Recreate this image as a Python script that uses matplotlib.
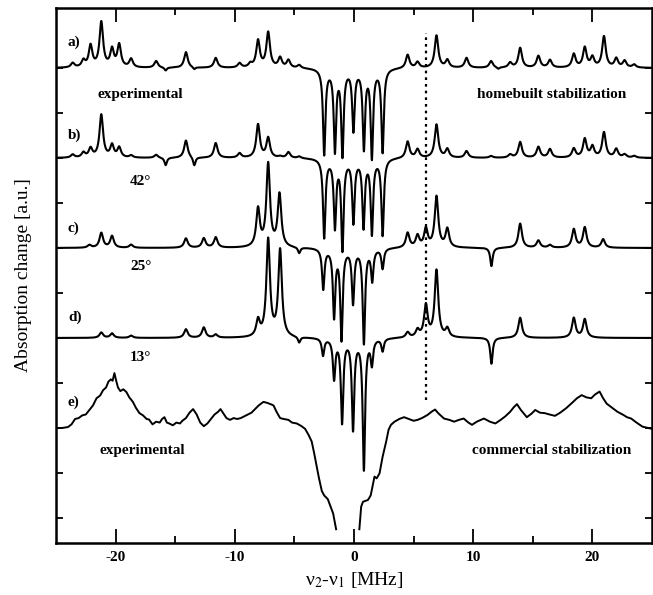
import numpy as np
import matplotlib
matplotlib.use("Agg")
import matplotlib.pyplot as plt

plt.rcParams['font.family'] = ['Liberation Serif', 'DejaVu Serif']
plt.rcParams['mathtext.fontset'] = 'stix'
plt.rcParams['axes.unicode_minus'] = False

# line positions [MHz] and amplitudes [a.u.]
a_pos = [-23.6, -22.7, -22.1, -21.2, -20.3, -19.7, -18.7, -16.6, -15.8, -14.1, -13.4, -11.6, -9.6, -8.7,
         -8.05, -7.2, -6.2, -5.5, -4.6,
         -2.5, -1.6, -0.97, -0.05, 0.83, 1.5, 2.4,
         4.5, 5.33, 6.92, 7.83, 9.44, 11.5, 12.1, 13.1, 13.94, 15.47, 16.44, 18.44, 19.36, 20.0,
         20.97, 22.0, 22.7, 23.5]
a_amp = [0.1, 0.15, 0.48, 1.0, 0.39, 0.5, 0.19, 0.15, -0.07, 0.35, -0.05, 0.22, 0.1, 0.08,
         0.6, 0.78, 0.22, 0.17, 0.07,
         -1.9, -1.8, -1.9, -1.35, -1.75, -1.95, -1.85,
         0.3, 0.13, 0.72, 0.17, 0.22, 0.15, -0.04, 0.11, 0.44, 0.26, 0.17, 0.3, 0.44, 0.22,
         0.69, 0.2, 0.15, 0.07]

b_pos = [-23.6, -22.7, -22.1, -21.2, -20.3, -19.7, -18.7, -16.6, -15.8, -14.1, -13.4, -11.6, -9.6,
         -8.05, -7.2, -6.2, -5.5, -4.6,
         -2.5, -1.6, -0.97, -0.05, 0.8, 1.5, 2.4,
         4.5, 5.33, 6.92, 7.83, 9.44, 11.5, 13.1, 13.94, 15.47, 16.44, 18.44, 19.36, 20.0,
         20.97, 22.0, 22.7, 23.5]
b_amp = [0.07, 0.11, 0.2, 0.95, 0.27, 0.22, 0.05, 0.07, -0.17, 0.39, -0.19, 0.33, 0.1,
         0.74, 0.44, 0.03, 0.13, 0.04,
         -1.75, -1.5, -2.0, -1.4, -1.5, -1.65, -1.7,
         0.37, 0.19, 0.74, 0.19, 0.15, 0.04, 0.07, 0.35, 0.24, 0.19, 0.2, 0.41, 0.24,
         0.56, 0.19, 0.07, 0.04]

c_pos = [-22.2, -21.2, -20.3, -18.7, -14.1, -12.6, -11.6, -8.05, -7.2, -6.25, -4.6,
         -2.58, -1.67, -1.05, -0.08, 0.83, 1.53, 2.4,
         4.5, 5.33, 6.03, 6.92, 7.83, 11.53, 13.94, 15.47, 16.44, 18.44, 19.36, 20.9]
c_amp = [0.06, 0.33, 0.26, 0.07, 0.21, 0.21, 0.23, 0.84, 1.84, 1.17, -0.13,
         -0.9, -1.5, -2.0, -1.2, -2.1, -0.7, -0.45,
         0.33, 0.26, 0.41, 1.13, 0.41, -0.41, 0.54, 0.16, 0.06, 0.41, 0.45, 0.19]

d_pos = [-21.2, -20.3, -18.7, -14.1, -12.6, -11.6, -8.05, -7.2, -6.2, -4.6,
         -2.6, -1.67, -1.0, -0.08, 0.83, 1.5, 2.4,
         4.5, 5.33, 6.03, 6.92, 7.83, 11.53, 13.94, 18.44, 19.36]
d_amp = [0.12, 0.1, 0.05, 0.19, 0.23, 0.07, 0.36, 2.16, 1.93, -0.13,
         -0.38, -0.88, -1.85, -2.0, -2.9, -0.55, -0.28,
         0.12, 0.16, 0.71, 1.49, 0.19, -0.58, 0.45, 0.44, 0.41]

# trace e (commercial stabilization), read point by point
e_x = [-25.0, -24.5, -24.0, -23.7, -23.4, -23.1, -22.8, -22.5, -22.2, -21.9, -21.6, -21.3, -21.05,
       -20.8, -20.6, -20.4, -20.25, -20.1, -19.95, -19.8, -19.6, -19.35, -19.1, -18.85, -18.55,
       -18.3, -18.0, -17.7, -17.4, -17.2, -16.9, -16.6, -16.3, -16.1, -15.9, -15.7, -15.5, -15.2,
       -14.9, -14.6, -14.4, -14.1, -13.8, -13.5, -13.2, -12.9, -12.6, -12.3, -12.0, -11.7, -11.4,
       -11.2, -11.0, -10.7, -10.4, -10.1, -9.8, -9.5, -9.2, -8.9, -8.6, -8.3, -8.0, -7.6, -7.3,
       -7.0, -6.75, -6.5, -6.2, -5.9, -5.5, -5.2, -4.8, -4.4, -4.1, -3.8, -3.55, -3.35, -3.15,
       -2.95, -2.7, -2.5, -2.35, -2.2, -2.0, -1.75, -1.5,
       np.nan,
       0.45, 0.6, 0.75, 0.95, 1.17, 1.4, 1.72, 1.9, 2.14, 2.4, 2.7, 2.9, 3.1, 3.4, 3.8, 4.2,
       4.6, 5.0, 5.33, 5.7, 6.17, 6.5, 6.8, 7.1, 7.55, 8.0, 8.4, 8.8, 9.2, 9.6, 9.9, 10.3, 10.9,
       11.4, 11.86, 12.3, 12.7, 13.1, 13.4, 13.67, 14.0, 14.5, 14.9, 15.2, 15.6, 16.0, 16.4,
       16.86, 17.3, 17.8, 18.3, 18.7, 19.1, 19.5, 19.9, 20.2, 20.6, 20.9, 21.2, 21.6, 22.1,
       22.6, 22.9, 23.25, 23.7, 24.2, 25.0]
e_y = [2.00, 2.00, 2.02, 2.08, 2.20, 2.22, 2.28, 2.30, 2.40, 2.50, 2.66, 2.72, 2.84,
       2.90, 3.03, 3.08, 3.05, 3.22, 3.05, 2.90, 2.82, 2.86, 2.80, 2.68, 2.58,
       2.45, 2.33, 2.28, 2.20, 2.19, 2.08, 2.14, 2.12, 2.20, 2.24, 2.12, 2.10, 2.06,
       2.12, 2.10, 2.16, 2.22, 2.34, 2.42, 2.30, 2.12, 2.04, 2.10, 2.20, 2.30, 2.36,
       2.42, 2.34, 2.22, 2.18, 2.22, 2.20, 2.22, 2.26, 2.30, 2.34, 2.42, 2.50, 2.58, 2.56,
       2.53, 2.50, 2.36, 2.22, 2.20, 2.18, 2.12, 2.10, 2.04, 1.98, 1.84, 1.70, 1.45, 1.18,
       0.90, 0.60, 0.50, 0.46, 0.42, 0.28, 0.10, -0.25,
       np.nan,
       -0.25, 0.25, 0.36, 0.38, 0.40, 0.50, 0.92, 0.88, 0.99, 1.36, 1.70, 1.96, 2.07, 2.14, 2.20, 2.24,
       2.20, 2.16, 2.18, 2.22, 2.29, 2.36, 2.41, 2.32, 2.21, 2.18, 2.14, 2.18, 2.21, 2.12, 2.07, 2.14, 2.21,
       2.14, 2.10, 2.18, 2.26, 2.36, 2.46, 2.53, 2.40, 2.24, 2.32, 2.40, 2.34, 2.33, 2.30,
       2.27, 2.34, 2.44, 2.56, 2.66, 2.73, 2.68, 2.66, 2.74, 2.81, 2.66, 2.54, 2.46, 2.36,
       2.29, 2.24, 2.21, 2.12, 2.03, 1.98]

offsets = [10, 8, 6, 4]
labels = ['a)', 'b)', 'c)', 'd)', 'e)']
label_y = [10.58, 8.51, 6.44, 4.47, 2.58]


def spectrum(x, pos, amp, w_peak=0.18, w_dip=0.12):
    y = np.zeros_like(x)
    for p, a in zip(pos, amp):
        w = w_peak if a > 0 else w_dip
        y += a * w**2 / ((x - p)**2 + w**2)
    return y


x = np.linspace(-25, 25, 4001)

fig = plt.figure(figsize=(6.53, 5.95), dpi=100)
ax = fig.add_axes([56/653, 52/595, 596/653, 535/595])

for (pos, amp), off in zip([(a_pos, a_amp), (b_pos, b_amp), (c_pos, c_amp), (d_pos, d_amp)], offsets):
    ax.plot(x, spectrum(x, pos, amp) + off, color='black', lw=1.5)
ax.plot(e_x, e_y, color='black', lw=1.4)

# dotted marker line
ax.plot([6.03, 6.03], [2.62, 10.78], color='black', lw=1.6, ls=(0, (1.2, 1.8)))

tw = 'bold'
for lab, ly in zip(labels, label_y):
    ax.text(-24.0, ly, lab, fontsize=11, ha='left', va='center', fontweight=tw)

ax.text(-17.9, 9.4, 'experimental', fontsize=11, ha='center', va='center', fontweight=tw)
ax.text(16.6, 9.4, 'homebuilt stabilization', fontsize=11, ha='center', va='center', fontweight=tw)
ax.text(-17.9, 7.47, '42°', fontsize=11, ha='center', va='center', fontweight=tw)
ax.text(-17.9, 5.58, '25°', fontsize=11, ha='center', va='center', fontweight=tw)
ax.text(-17.9, 3.56, '13°', fontsize=11, ha='center', va='center', fontweight=tw)
ax.text(-17.8, 1.51, 'experimental', fontsize=11, ha='center', va='center', fontweight=tw)
ax.text(16.6, 1.51, 'commercial stabilization', fontsize=11, ha='center', va='center', fontweight=tw)

ax.set_xlim(-25, 25)
ax.set_ylim(-0.556, 11.333)
ax.set_xticks([-20, -10, 0, 10, 20])
ax.set_xticks([-15, -5, 5, 15], minor=True)
ax.set_yticks(range(0, 11))
ax.set_yticklabels([])
ax.tick_params(which='both', direction='in', top=True, right=True, width=1.3)
ax.tick_params(axis='x', which='major', length=10, labelsize=11, pad=6)
ax.tick_params(axis='x', which='minor', length=5)
ax.tick_params(axis='y', length=5)
for t in ax.get_xticklabels():
    t.set_fontweight('bold')
for s in ax.spines.values():
    s.set_linewidth(1.8)

ax.set_xlabel('ν$_2$-ν$_1$ [MHz]', fontsize=14, labelpad=4)
ax.set_ylabel('Absorption change [a.u.]', fontsize=14, labelpad=14)

fig.savefig('out.png', dpi=100)
